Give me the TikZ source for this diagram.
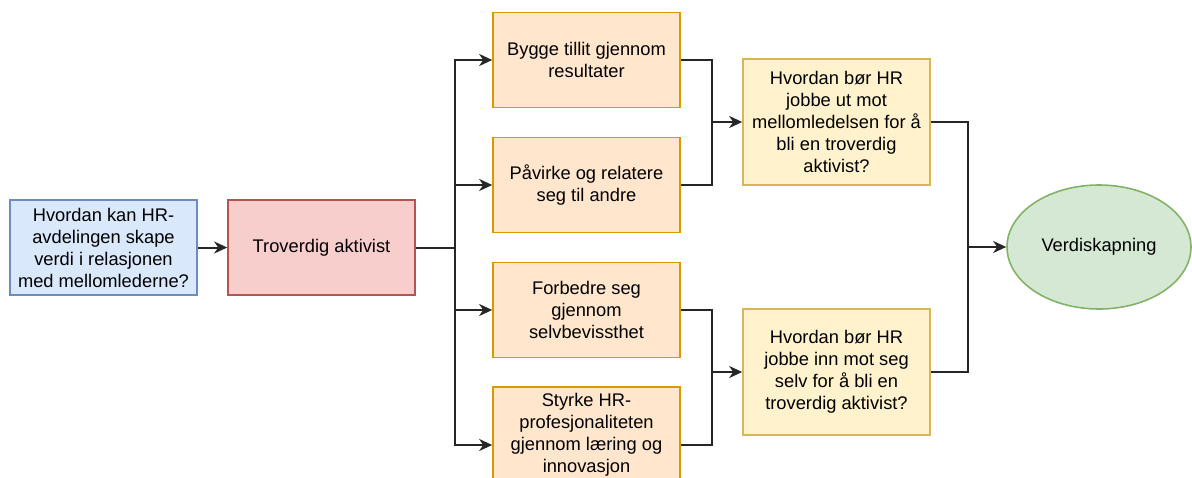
\documentclass[tikz,border=0pt]{standalone}
\usepackage{fontspec}
\setmainfont{Liberation Sans}
\usepackage{xcolor}
\usepackage{tikz}
\usetikzlibrary{positioning, shapes.geometric, arrows.meta}
\definecolor{blaaFyll}{HTML}{DAE8FC}
\definecolor{blaaKant}{HTML}{6C8EBF}
\definecolor{roedFyll}{HTML}{F8CECC}
\definecolor{roedKant}{HTML}{B85450}
\definecolor{oransjeFyll}{HTML}{FFE6CC}
\definecolor{oransjeKant}{HTML}{D79B00}
\definecolor{gulFyll}{HTML}{FFF2CC}
\definecolor{gulKant}{HTML}{D6B656}
\definecolor{groennFyll}{HTML}{D5E8D4}
\definecolor{groennKant}{HTML}{82B366}

\begin{document}
\begin{tikzpicture}[
  x=1pt, y=-1pt,
  font=\fontsize{18.3}{22}\selectfont,
  boks/.style={draw, line width=1.6pt, minimum width=187pt, minimum height=95pt, align=center, inner sep=0pt},
  linje/.style={line width=2pt, black!85},
  arr/.style={linje, -{Stealth[length=13pt, width=12pt, inset=4pt]}}
]
  \useasboundingbox (0,0) rectangle (1192,477);

  % --- Spørsmål og rolle ---
  \node[boks, fill=blaaFyll, draw=blaaKant] (sporsmal) at (103.5,247.5)
    {Hvordan kan HR-\\avdelingen skape\\verdi i relasjonen\\med mellomlederne?};
  \node[boks, fill=roedFyll, draw=roedKant] (aktivist) at (321.5,247.5) {Troverdig aktivist};

  % --- Delkompetanser ---
  \node[boks, fill=oransjeFyll, draw=oransjeKant] (tillit)   at (586.5,60)  {Bygge tillit gjennom\\resultater};
  \node[boks, fill=oransjeFyll, draw=oransjeKant] (pavirke)  at (586.5,185) {Påvirke og relatere\\seg til andre};
  \node[boks, fill=oransjeFyll, draw=oransjeKant] (forbedre) at (586.5,310) {Forbedre seg\\gjennom\\selvbevissthet};
  \node[boks, fill=oransjeFyll, draw=oransjeKant, minimum height=116pt] (styrke) at (586.5,445)
    {Styrke HR-\\profesjonaliteten\\gjennom læring og\\innovasjon\\[2pt]};

  % --- Forskningsspørsmål ---
  \node[boks, fill=gulFyll, draw=gulKant, minimum height=126pt] (utmot) at (836.5,122)
    {Hvordan bør HR\\jobbe ut mot\\mellomledelsen for å\\bli en troverdig\\aktivist?};
  \node[boks, fill=gulFyll, draw=gulKant, minimum height=126pt] (innmot) at (836.5,372)
    {Hvordan bør HR\\jobbe inn mot seg\\selv for å bli en\\troverdig aktivist?};

  % --- Resultat ---
  \node[ellipse, draw=groennKant, fill=groennFyll, line width=1.6pt, minimum width=184pt, minimum height=124pt]
    (verdi) at (1099,247) {Verdiskapning};

  % --- Koblinger ---
  \coordinate (forgrening) at (455,247.5);
  \coordinate (samle1) at (712,122);
  \coordinate (samle2) at (712,372);
  \coordinate (samle3) at (968,247);

  \draw[arr] (sporsmal) -- (aktivist);
  \draw[linje] (aktivist.east) -- (forgrening);
  \foreach \b in {tillit, pavirke, forbedre, styrke}
    \draw[arr] (forgrening) |- (\b.west);

  \draw[linje] (tillit.east) -| (samle1);
  \draw[linje] (pavirke.east) -| (samle1);
  \draw[arr] (samle1) -- (utmot.west);

  \draw[linje] (forbedre.east) -| (samle2);
  \draw[linje] (styrke.east) -| (samle2);
  \draw[arr] (samle2) -- (innmot.west);

  \draw[linje] (utmot.east) -| (samle3);
  \draw[linje] (innmot.east) -| (samle3);
  \draw[arr] (samle3) -- (verdi.west);

\end{tikzpicture}
\end{document}
